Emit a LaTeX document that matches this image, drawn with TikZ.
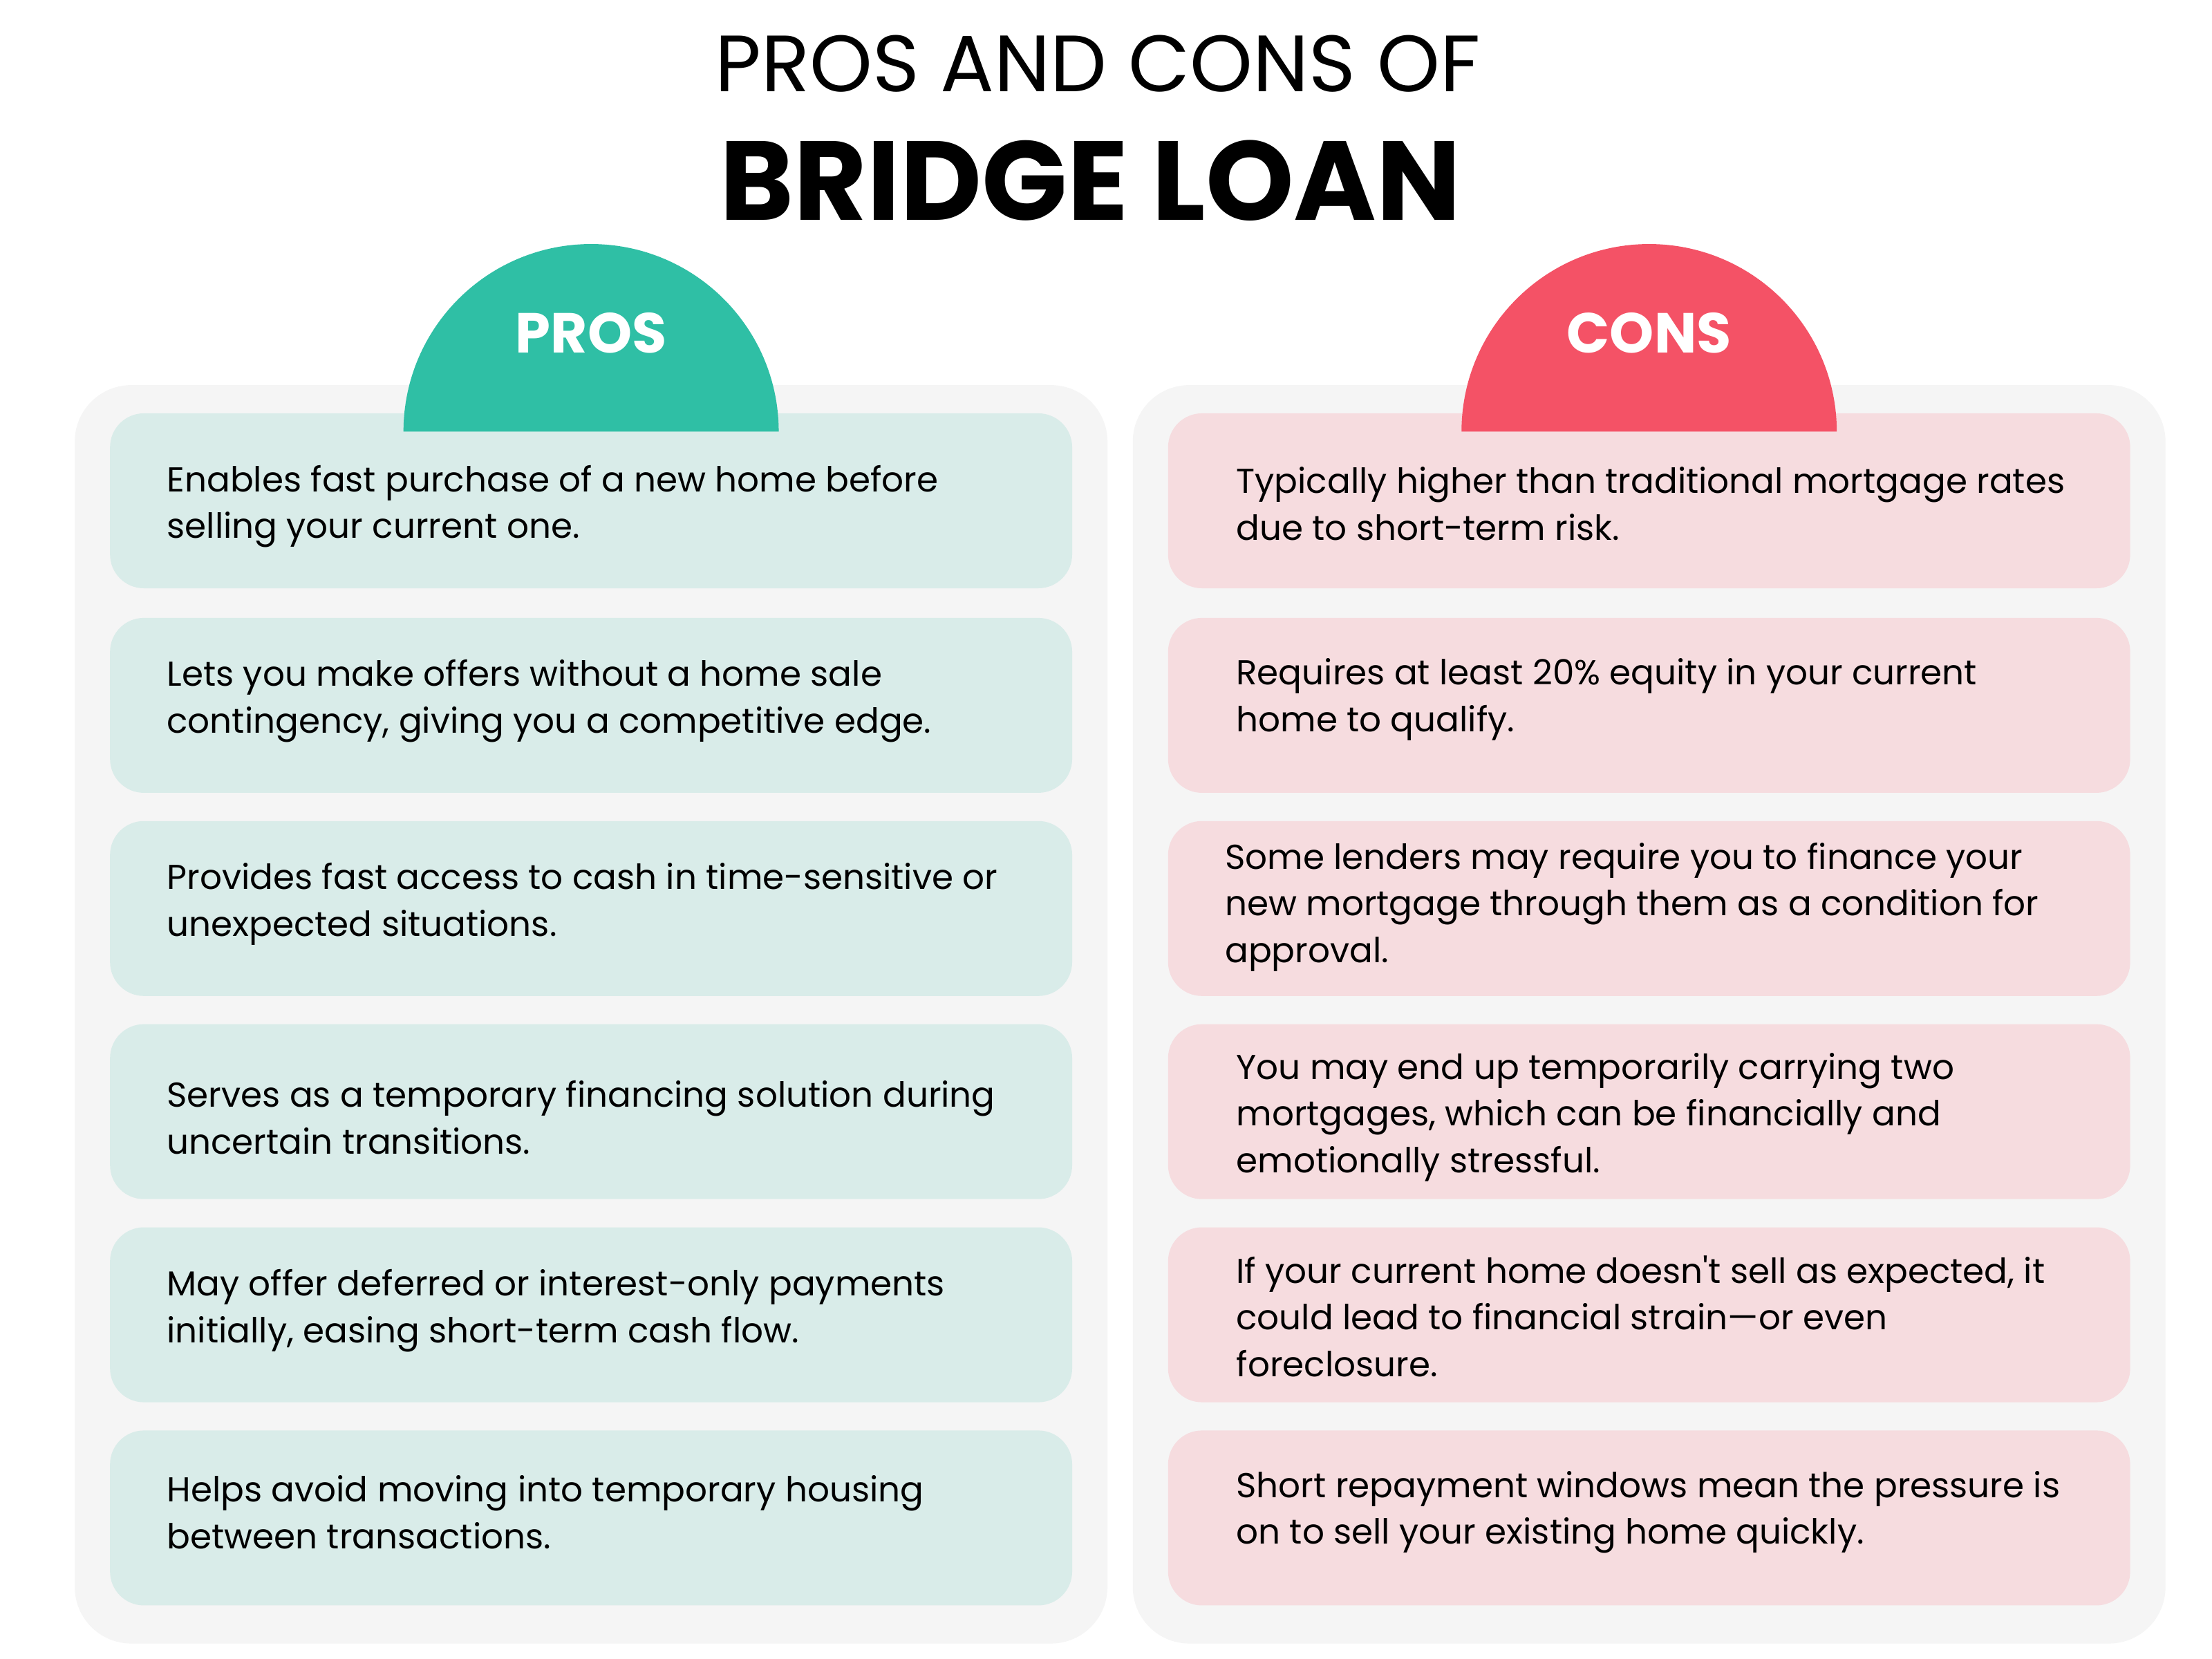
\documentclass[tikz,border=0pt]{standalone}
\usepackage{fontspec}
\setmainfont{Poppins}
\begin{document}
\begin{tikzpicture}[x=0.5pt,y=-0.5pt,
  panel/.style={fill=panelgray,rounded corners=20pt},
  probox/.style={fill=profill,rounded corners=12pt},
  conbox/.style={fill=confill,rounded corners=12pt},
  itemtext/.style={anchor=west,align=left,font=\fontsize{12.25pt}{16.6pt}\selectfont,text=black,inner sep=0pt},
  head/.style={text=white,font=\bfseries\fontsize{20pt}{24pt}\selectfont}]
\definecolor{panelgray}{HTML}{F5F5F5}
\definecolor{profill}{HTML}{D9ECE9}
\definecolor{confill}{HTML}{F6DCDF}
\definecolor{progreen}{HTML}{2FBFA5}
\definecolor{conred}{HTML}{F45266}
\useasboundingbox (0,0) rectangle (1568,1176);
\fill[white] (0,0) rectangle (1568,1176);
\node (t1) at (778,45) {\fontsize{28.3pt}{34pt}\selectfont PROS AND CONS OF};
\node (t2) at (773,128) {\bfseries\fontsize{39.8pt}{46pt}\selectfont BRIDGE LOAN};
\fill[panel] (53,273) rectangle (785,1165);
\fill[panel] (803,273) rectangle (1535,1165);
\foreach \i/\y in {1/293,2/438,3/582,4/726,5/870,6/1014}{
  \fill[probox] (78,\y) rectangle (760,\y+124);
  \fill[conbox] (828,\y) rectangle (1510,\y+124);
}
\fill[progreen] (286,306) arc[start angle=180,end angle=360,radius=133] -- cycle;
\fill[conred] (1036,306) arc[start angle=180,end angle=360,radius=133] -- cycle;
\node[head] (ph) at (419,236) {PROS};
\node[head] (ch) at (1169,236) {CONS};
\node[itemtext] (p1) at (118,359) {Enables fast purchase of a new home before\\selling your current one.};
\node[itemtext] (p2) at (118,497) {Lets you make offers without a home sale\\contingency, giving you a competitive edge.};
\node[itemtext] (p3) at (118,641) {Provides fast access to cash in time-sensitive or\\unexpected situations.};
\node[itemtext] (p4) at (118,792) {Serves as a temporary financing solution during\\uncertain transitions.};
\node[itemtext] (p5) at (118,929) {May offer deferred or interest-only payments\\initially, easing short-term cash flow.};
\node[itemtext] (p6) at (118,1072) {Helps avoid moving into temporary housing\\between transactions.};
\node[itemtext] (c1) at (876,357) {Typically higher than traditional mortgage rates\\due to short-term risk.};
\node[itemtext] (c2) at (876,496) {Requires at least 20\% equity in your current\\home to qualify.};
\node[itemtext] (c3) at (868,643) {Some lenders may require you to finance your\\new mortgage through them as a condition for\\approval.};
\node[itemtext] (c4) at (876,792) {You may end up temporarily carrying two\\mortgages, which can be financially and\\emotionally stressful.};
\node[itemtext] (c5) at (876,933) {If your current home doesn\textquotesingle t sell as expected, it\\could lead to financial strain—or even\\foreclosure.};
\node[itemtext] (c6) at (876,1072) {Short repayment windows mean the pressure is\\on to sell your existing home quickly.};
\end{tikzpicture}
\end{document}
